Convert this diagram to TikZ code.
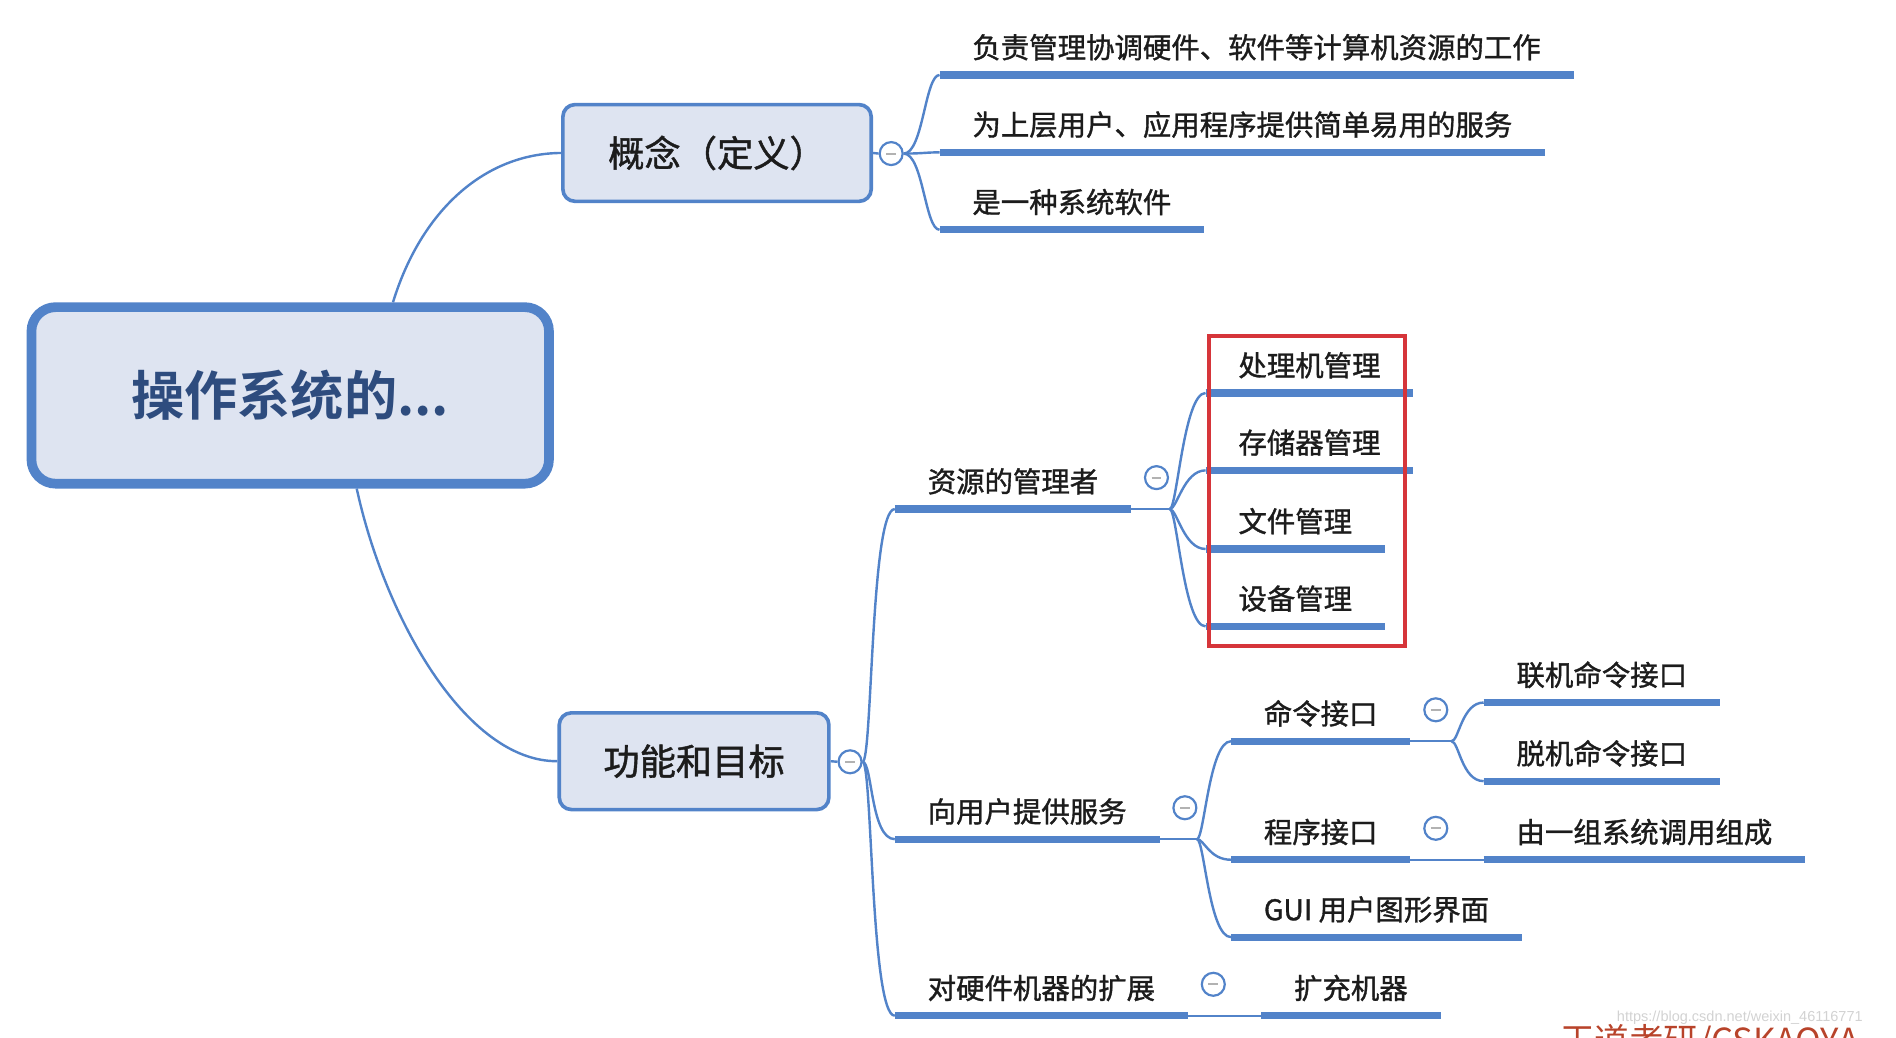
\documentclass[tikz,border=0pt]{standalone}
\usepackage{fontspec}
\usepackage{tikz}
\usetikzlibrary{calc}
\newfontfamily\cjk{Noto Sans CJK SC}[BoldFont={* Bold}]
\newfontfamily\cjkm{Noto Sans CJK SC}[FakeBold=1.2]
\newfontfamily\wmfont{Liberation Sans}
\definecolor{mblue}{HTML}{5283C9}
\definecolor{mfill}{HTML}{DEE4F1}
\definecolor{rootblue}{HTML}{2E4C7E}
\definecolor{mtext}{HTML}{1C1C1C}
\definecolor{mred}{HTML}{D6353A}
\definecolor{wmred}{HTML}{B8432A}
\tikzset{
  rootbox/.style={draw=mblue, line width=8pt, fill=mfill, rounded corners=20pt, minimum width=428pt, minimum height=146pt, text=rootblue, font=\cjk\bfseries\fontsize{44}{50}\selectfont},
  topbox/.style={draw=mblue, line width=3pt, fill=mfill, rounded corners=10pt, minimum height=80pt, text=mtext, font=\cjkm\fontsize{30}{36}\selectfont},
  uline/.style={draw=mblue, line width=6pt},
  link/.style={draw=mblue, line width=2pt},
  leaf/.style={anchor=south west, inner xsep=27pt, inner ysep=11pt, text height=20.7pt, text depth=2.8pt, text=mtext, font=\cjkm\fontsize{23.5}{28}\selectfont,
    append after command={(\tikzlastnode.south west) edge[uline] (\tikzlastnode.south east)}},
  fold/.style={circle, draw=mblue, line width=1.8pt, fill=white, minimum size=19pt, inner sep=0pt,
    path picture={\draw[gray!60, line width=1.6pt] ([xshift=-4pt]path picture bounding box.center) -- ([xshift=4pt]path picture bounding box.center);}}
}
\begin{document}
\begin{tikzpicture}[x=1pt, y=-1pt]
\useasboundingbox (0,0) rectangle (1568,857.6);
\node[rootbox] (os) at (240,327) {操作系统的...};
\node[topbox, minimum width=255pt] (def) at (593,126.5) {概念（定义）};
\node[topbox, minimum width=223pt] (goal) at (574,629.5) {功能和目标};
\draw[link] ($(os.north)+(85,0)$) .. controls (348,175) and (400,127) .. (def.west);
\draw[link] ($(os.south)+(55,0)$) .. controls (318,510) and (385,630) .. (goal.west);

\node[fold] (deff) at (737,127) {};
\draw[link] (def.east) -- (deff.west);
\node[leaf] (d1) at (777,62) {负责管理协调硬件、软件等计算机资源的工作};
\node[leaf] (d2) at (777,126) {为上层用户、应用程序提供简单易用的服务};
\node[leaf] (d3) at (777,190) {是一种系统软件};
\foreach \x in {d1,d2,d3}
  \draw[link] (deff.east) .. controls +(16,0) and +(-12,0) .. (\x.south west);

\node[fold] (goalf) at (703,630) {};
\draw[link] (goal.east) -- (goalf.west);
\node[leaf] (res) at (740,421) {资源的管理者};
\node[leaf] (svc) at (740,694) {向用户提供服务};
\node[leaf] (ext) at (740,840) {对硬件机器的扩展};
\foreach \x in {res,svc,ext}
  \draw[link] (goalf.east) .. controls +(8,0) and +(-20,0) .. (\x.south west);

\node[fold] (resf) at ($(res.south east)+(21,-26)$) {};
\draw[link] (res.south east) -- ++(32,0) coordinate (resb);
\node[leaf] (cpu) at (997,325) {处理机管理};
\node[leaf] (mem) at (997,389) {存储器管理};
\node[leaf] (file) at (997,454) {文件管理};
\node[leaf] (dev) at (997,518) {设备管理};
\foreach \x in {cpu,mem,file,dev}
  \draw[link] (resb) .. controls +(6,0) and +(-18,0) .. (\x.south west);
\draw[mred, line width=3pt] (1000,278) rectangle (1162,534);

\node[fold] (svcf) at ($(svc.south east)+(21,-26)$) {};
\draw[link] (svc.south east) -- ++(31,0) coordinate (svcb);
\node[leaf] (cmd) at (1018,613) {命令接口};
\node[leaf] (prog) at (1018,711) {程序接口};
\node[leaf] (gui) at (1018,775) {GUI 用户图形界面};
\foreach \x in {cmd,prog,gui}
  \draw[link] (svcb) .. controls +(6,0) and +(-18,0) .. (\x.south west);

\node[fold] (cmdf) at ($(cmd.south east)+(21,-26)$) {};
\draw[link] (cmd.south east) -- ++(34,0) coordinate (cmdb);
\node[leaf] (online) at (1227,581) {联机命令接口};
\node[leaf] (offline) at (1227,646) {脱机命令接口};
\foreach \x in {online,offline}
  \draw[link] (cmdb) .. controls +(6,0) and +(-18,0) .. (\x.south west);

\node[fold] (progf) at ($(prog.south east)+(21,-26)$) {};
\node[leaf] (sys) at (1227,711) {由一组系统调用组成};
\draw[link] (prog.south east) -- (sys.south west);

\node[fold] (extf) at ($(ext.south east)+(21,-26)$) {};
\node[leaf] (more) at (1043,840) {扩充机器};
\draw[link] (ext.south east) -- (more.south west);

\node[anchor=base west, inner sep=0pt, text=wmred, font=\cjk\fontsize{28.6}{30}\selectfont] (brand) at (1290,871) {王道考研/CSKAOYA};
\node[anchor=west, inner sep=0pt, text=gray!35, font=\wmfont\fontsize{12}{14}\selectfont] (url) at (1337,842) {https://blog.csdn.net/weixin\_46116771};
\end{tikzpicture}
\end{document}
